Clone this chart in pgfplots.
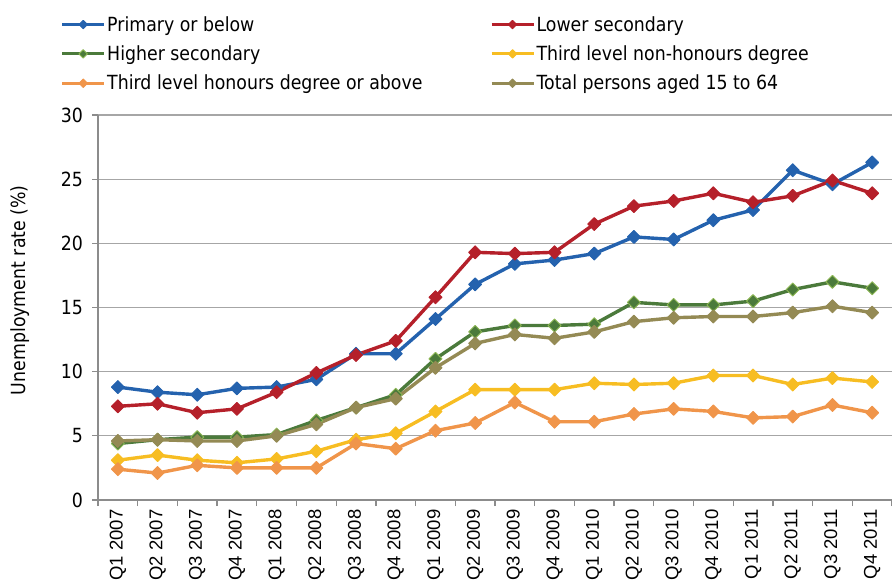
\documentclass[border=0pt]{standalone}
\usepackage{fontspec}
\setmainfont{Liberation Sans}
\newfontfamily\tah[FakeStretch=0.89]{DejaVu Sans}
\usepackage{pgfplots}
\usepackage{pgfplotstable}
\pgfplotsset{compat=1.18}

\definecolor{cPrim}{HTML}{2462AE}
\definecolor{cLow}{HTML}{B5202A}
\definecolor{cHigh}{HTML}{4B7A3B}
\definecolor{cHighEdge}{HTML}{8CB653}
\definecolor{cNon}{HTML}{F7BD22}
\definecolor{cHon}{HTML}{F0954A}
\definecolor{cTot}{HTML}{948A54}
\definecolor{gridgray}{HTML}{A6A6A6}
\definecolor{axisgray}{HTML}{8C8C8C}

% quarterly unemployment rates (%), Q1 2007 .. Q4 2011
\pgfplotstableread{
q  prim  low   high  non  hon  tot
0  8.8   7.3   4.4   3.1  2.4  4.6
1  8.4   7.5   4.7   3.5  2.1  4.7
2  8.2   6.8   4.9   3.1  2.7  4.6
3  8.7   7.1   4.9   2.9  2.5  4.6
4  8.8   8.4   5.1   3.2  2.5  5.0
5  9.4   9.9   6.2   3.8  2.5  5.9
6  11.4  11.3  7.2   4.7  4.4  7.2
7  11.4  12.4  8.2   5.2  4.0  7.9
8  14.1  15.8  11.0  6.9  5.4  10.3
9  16.8  19.3  13.1  8.6  6.0  12.2
10 18.4  19.2  13.6  8.6  7.6  12.9
11 18.7  19.3  13.6  8.6  6.1  12.6
12 19.2  21.5  13.7  9.1  6.1  13.1
13 20.5  22.9  15.4  9.0  6.7  13.9
14 20.3  23.3  15.2  9.1  7.1  14.2
15 21.8  23.9  15.2  9.7  6.9  14.3
16 22.6  23.2  15.5  9.7  6.4  14.3
17 25.7  23.7  16.4  9.0  6.5  14.6
18 24.6  24.9  17.0  9.5  7.4  15.1
19 26.3  23.9  16.5  9.2  6.8  14.6
}\rates

\pgfplotsset{
  ser/.style 2 args={color=#1, line width=3.4pt, line join=round,
    mark=square*, mark size=4.6pt,
    mark options={rotate=45, solid, line width=0.9pt, fill=#1, draw=#2}},
}

\begin{document}
\begin{tikzpicture}
\begin{axis}[
    at={(98pt,-500pt)}, anchor=south west,
    width=794pt, height=385pt, scale only axis,
    xmin=-0.5, xmax=19.5, ymin=0, ymax=30,
    ytick={0,5,...,30},
    xtick={0,...,19},
    minor xtick={-0.5,0.5,...,19.5},
    xticklabels={Q1 2007,Q2 2007,Q3 2007,Q4 2007,Q1 2008,Q2 2008,Q3 2008,Q4 2008,
      Q1 2009,Q2 2009,Q3 2009,Q4 2009,Q1 2010,Q2 2010,Q3 2010,Q4 2010,
      Q1 2011,Q2 2011,Q3 2011,Q4 2011},
    axis x line*=bottom, axis y line*=left,
    axis line style={draw=axisgray, line width=1.3pt, -},
    tick align=outside,
    major tick length=6pt, minor tick length=6pt,
    major x tick style={draw=none},
    minor x tick style={draw=axisgray, line width=1.3pt},
    y tick style={draw=axisgray, line width=1.3pt},
    ymajorgrids, grid style={draw=gridgray, line width=1.3pt},
    /pgf/number format/assume math mode=true,
    yticklabel style={font=\tah\fontsize{19.5}{22}\selectfont, xshift=-5.5pt},
    xticklabel style={rotate=90, anchor=east, font=\fontsize{18.5}{20}\selectfont},
    ylabel={Unemployment rate (\%)},
    every axis y label/.style={at={(axis description cs:-0.0985,0.545)},
      rotate=90, anchor=center, font=\tah\fontsize{19.5}{22}\selectfont},
    legend columns=2,
    legend cell align=left,
    legend image code/.code={
      \draw[mark repeat=2, mark phase=2, line width=3pt, mark size=3pt]
        plot coordinates {(0pt,0pt)(21pt,0pt)(42pt,0pt)};
    },
    legend style={at={(axis description cs:-0.0472,1.2605)}, anchor=north west,
      draw=none, fill=none, inner sep=0pt,
      nodes={inner sep=1.5pt},
      font=\tah\fontsize{19.5}{22}\selectfont,
      row sep=10pt,
      /tikz/every even column/.append style={column sep=66pt}},
]
\addplot[ser={cPrim}{cPrim}] table[x=q, y=prim] {\rates};
\addlegendentry{Primary or below}
\addplot[ser={cLow}{cLow}] table[x=q, y=low] {\rates};
\addlegendentry{Lower secondary}
\addplot[ser={cHigh}{cHighEdge}] table[x=q, y=high] {\rates};
\addlegendentry{Higher secondary}
\addplot[ser={cNon}{cNon}] table[x=q, y=non] {\rates};
\addlegendentry{Third level non-honours degree}
\addplot[ser={cHon}{cHon}] table[x=q, y=hon] {\rates};
\addlegendentry{Third level honours degree or above}
\addplot[ser={cTot}{cTot}] table[x=q, y=tot] {\rates};
\addlegendentry{Total persons aged 15 to 64}
\end{axis}
\pgfresetboundingbox
\path[use as bounding box] (0pt,0pt) rectangle (892pt,-588pt);
\end{tikzpicture}
\end{document}
